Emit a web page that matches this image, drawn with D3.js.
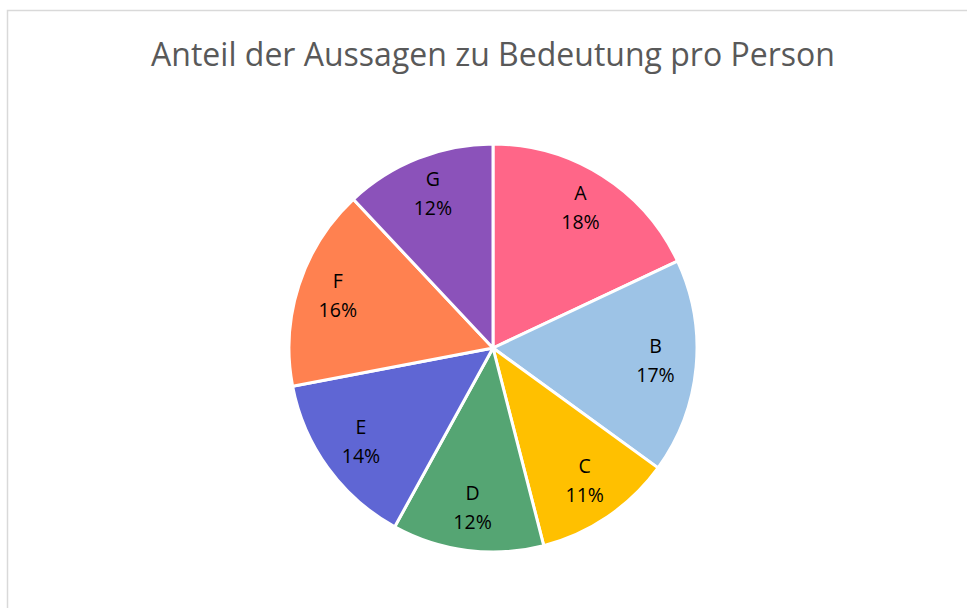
<!DOCTYPE html>
<html>
<head>
<meta charset="utf-8">
<script src="https://cdn.jsdelivr.net/npm/d3@7"></script>
<style>
  body { margin: 0; background: #ffffff; }
  svg { display: block; }
</style>
</head>
<body>
<div id="chart"></div>
<script>
// data
var categories = ["A", "B", "C", "D", "E", "F", "G"];
var values = [18, 17, 11, 12, 14, 16, 12];
var colors = ["#ff6688", "#9dc3e6", "#ffc000", "#55a573", "#5f66d4", "#ff8150", "#8b52ba"];
var title = "Anteil der Aussagen zu Bedeutung pro Person";

var width = 967;
var height = 608;

var svg = d3.select("#chart")
    .append("svg")
    .attr("width", width)
    .attr("height", height);

// chart area border
svg.append("rect")
    .attr("x", 7.5)
    .attr("y", 10.5)
    .attr("width", 980)
    .attr("height", 620)
    .style("fill", "#ffffff")
    .style("stroke", "#d9d9d9")
    .style("stroke-width", 1.5);

svg.append("text")
    .attr("x", 493)
    .attr("y", 66)
    .attr("text-anchor", "middle")
    .style("font-family", "'Open Sans', sans-serif")
    .style("font-size", "32px")
    .style("fill", "#595959")
    .text(title);

var radius = 204;
var total = d3.sum(values);

var pie = d3.pie()
    .sort(null)
    .value(function (d) { return d.value; });

var arc = d3.arc()
    .innerRadius(0)
    .outerRadius(radius);

var labelArc = d3.arc()
    .innerRadius(radius * 0.8)
    .outerRadius(radius * 0.8);

var data = categories.map(function (c, i) {
    return { name: c, value: values[i], color: colors[i] };
});

var g = svg.append("g")
    .attr("transform", "translate(493, 348)");

var slices = g.selectAll(".slice")
    .data(pie(data))
    .enter()
    .append("g")
    .attr("class", "slice");

slices.append("path")
    .attr("d", arc)
    .style("fill", function (d) { return d.data.color; })
    .style("stroke", "#ffffff")
    .style("stroke-width", "3px")
    .style("stroke-linejoin", "round");

var labels = slices.append("text")
    .attr("transform", function (d) {
        var c = labelArc.centroid(d);
        return "translate(" + c[0] + "," + c[1] + ")";
    })
    .attr("text-anchor", "middle")
    .style("font-family", "'Open Sans', sans-serif")
    .style("font-size", "19.5px")
    .style("fill", "#000000");

labels.append("tspan")
    .attr("x", 0)
    .attr("y", -10)
    .text(function (d) { return d.data.name; });

labels.append("tspan")
    .attr("x", 0)
    .attr("y", 19)
    .text(function (d) { return Math.round(d.data.value / total * 100) + "%"; });
</script>
</body>
</html>
